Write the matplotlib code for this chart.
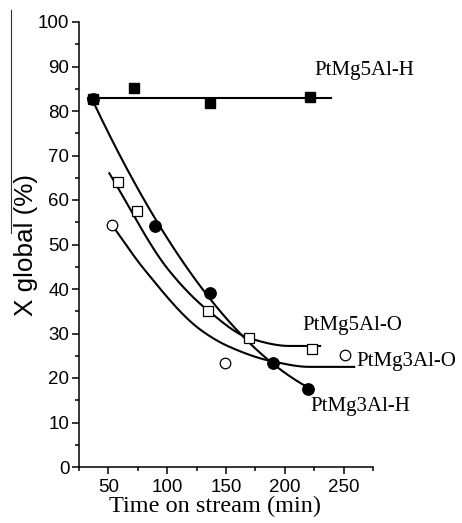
import numpy as np
import matplotlib
matplotlib.use("Agg")
import matplotlib.pyplot as plt
from matplotlib.lines import Line2D
from matplotlib.ticker import MultipleLocator

# Measured conversion (%) versus time on stream (min)
t_5al_h = [37, 71.4, 136.4, 221.2]
x_5al_h = [82.7, 85.2, 81.7, 83.2]
level_5al_h = 82.9          # horizontal trend level
span_5al_h = [33, 239.6]

t_3al_h = [37, 89.8, 136.4, 190, 219.8]
x_3al_h = [82.7, 54.2, 39.0, 23.4, 17.5]

t_5al_o = [57.9, 74.3, 135, 169.7, 223.1]
x_5al_o = [64.1, 57.6, 35.1, 28.9, 26.5]

t_3al_o = [53.1, 149.2, 250.8]
x_3al_o = [54.4, 23.3, 25.2]

# Trend curves (knots along the drawn decay curves)
curve_5al_o_t = [50.8, 101.1, 135, 170.3, 204, 230]
curve_5al_o_x = [66.0, 44.3, 35.1, 28.9, 27.2, 27.2]
curve_3al_o_t = [52.5, 80.8, 128, 153, 190, 221, 259]
curve_3al_o_x = [54.6, 44.3, 30.9, 27.0, 23.7, 22.5, 22.5]

labels = ["PtMg5Al-H", "PtMg5Al-O", "PtMg3Al-O", "PtMg3Al-H"]
label_pos = [(225.4, 88.2), (215.3, 30.8), (260.8, 22.7), (222.0, 12.6)]


def monotone_curve(xk, yk, n=200):
    """Shape-preserving cubic (Fritsch-Carlson) through the knots."""
    xk = np.asarray(xk, float)
    yk = np.asarray(yk, float)
    h = np.diff(xk)
    d = np.diff(yk) / h
    m = np.zeros_like(yk)
    m[0], m[-1] = d[0], d[-1]
    for i in range(1, len(xk) - 1):
        if d[i - 1] * d[i] <= 0:
            m[i] = 0.0
        else:
            w1 = 2 * h[i] + h[i - 1]
            w2 = h[i] + 2 * h[i - 1]
            m[i] = (w1 + w2) / (w1 / d[i - 1] + w2 / d[i])
    xs = np.linspace(xk[0], xk[-1], n)
    idx = np.clip(np.searchsorted(xk, xs) - 1, 0, len(xk) - 2)
    s = (xs - xk[idx]) / h[idx]
    h00 = 2 * s**3 - 3 * s**2 + 1
    h10 = s**3 - 2 * s**2 + s
    h01 = -2 * s**3 + 3 * s**2
    h11 = s**3 - s**2
    ys = (h00 * yk[idx] + h10 * h[idx] * m[idx]
          + h01 * yk[idx + 1] + h11 * h[idx] * m[idx + 1])
    return xs, ys


fig = plt.figure(figsize=(4.62, 5.23), dpi=100)
ax = fig.add_axes([79 / 462, 1 - 467 / 523, 294 / 462, 445 / 523])

lw = 1.5
# trend lines
ax.plot(span_5al_h, [level_5al_h, level_5al_h], color="black", lw=lw, zorder=2)

c = np.polyfit(t_3al_h, x_3al_h, 2)
tt = np.linspace(t_3al_h[0], 221, 200)
ax.plot(tt, np.polyval(c, tt), color="black", lw=lw, zorder=2)

for kt, kx in [(curve_5al_o_t, curve_5al_o_x), (curve_3al_o_t, curve_3al_o_x)]:
    tt, yy = monotone_curve(kt, kx)
    ax.plot(tt, yy, color="black", lw=lw, zorder=2)

# markers
ax.plot(t_5al_h, x_5al_h, ls="none", marker="s", ms=7.2, mfc="black", mec="black", zorder=3)
ax.plot(t_3al_h, x_3al_h, ls="none", marker="o", ms=8.2, mfc="black", mec="black", zorder=4)
ax.plot(t_5al_o, x_5al_o, ls="none", marker="s", ms=7.0, mfc="white", mec="black", mew=0.9, zorder=4)
ax.plot(t_3al_o, x_3al_o, ls="none", marker="o", ms=7.6, mfc="white", mec="black", mew=0.9, zorder=4)

for text, (px, py) in zip(labels, label_pos):
    ax.text(px, py, text, family="Liberation Serif", fontsize=15, ha="left",
            va="baseline", clip_on=False)

ax.set_xlim(25, 275)
ax.set_ylim(0, 100)
ax.xaxis.set_major_locator(MultipleLocator(50))
ax.xaxis.set_minor_locator(MultipleLocator(25))
ax.yaxis.set_major_locator(MultipleLocator(10))
ax.yaxis.set_minor_locator(MultipleLocator(5))
ax.set_xticks([50, 100, 150, 200, 250])

for side in ("top", "right"):
    ax.spines[side].set_visible(False)
for side in ("left", "bottom"):
    ax.spines[side].set_linewidth(1.1)

ax.tick_params(which="major", direction="out", length=5, width=1.1,
               labelsize=13.5, pad=2)
ax.tick_params(which="minor", direction="out", length=3, width=1.1)
ax.tick_params(axis="x", which="major", pad=4)
for lab in ax.get_xticklabels() + ax.get_yticklabels():
    lab.set_family("Liberation Sans")

fig.text(215 / 462, 1 - 511.7 / 523, "Time on stream (min)", family="Liberation Serif",
         fontsize=17.5, ha="center", va="baseline")
fig.text(26 / 462, 1 - 245 / 523, "X global (%)", family="Liberation Sans",
         fontsize=18.8, rotation=90, ha="center", va="center")
fig.add_artist(Line2D([11 / 462, 11 / 462], [1 - 10 / 523, 1 - 233 / 523],
                      transform=fig.transFigure, color="#333333", lw=0.8))

fig.savefig("out.png", dpi=100)
